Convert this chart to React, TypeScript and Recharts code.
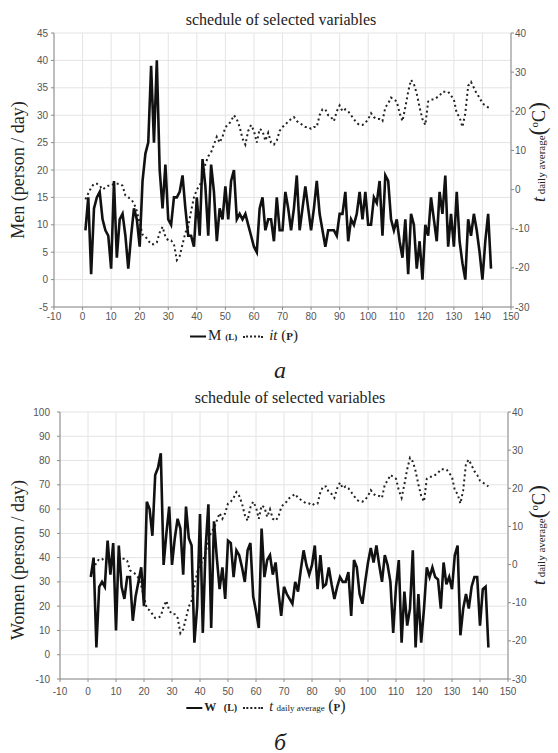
import { CartesianGrid, Line, LineChart, XAxis, YAxis } from 'recharts';

// daily counts (days 1..143)
const menDaily = [
  9, 15, 1, 13, 15, 16, 11, 9, 8, 2,
  18, 4, 11, 12, 8, 2, 8, 13, 11, 6,
  18, 23, 25, 39, 25, 40, 20, 13, 21, 11,
  10, 15, 15, 16, 19, 13, 8, 8, 6, 15,
  8, 22, 17, 8, 21, 16, 7, 13, 11, 17,
  11, 18, 20, 11, 12, 11, 12, 10, 8, 6,
  5, 13, 15, 9, 11, 11, 7, 15, 9, 9,
  16, 13, 9, 13, 19, 9, 13, 17, 13, 9,
  13, 18, 12, 9, 6, 9, 9, 9, 8, 12,
  12, 16, 7, 11, 10, 12, 16, 11, 16, 10,
  10, 15, 14, 18, 8, 19, 18, 11, 9, 11,
  7, 4, 11, 1, 12, 10, 2, 7, 0, 10,
  8, 15, 11, 7, 16, 12, 19, 6, 12, 6,
  16, 7, 3, 0, 11, 8, 12, 9, 5, 0,
  7, 12, 2,
];

const womenDaily = [
  32, 40, 3, 28, 30, 28, 47, 33, 46, 10,
  45, 28, 23, 32, 32, 14, 24, 30, 36, 20,
  63, 60, 49, 74, 77, 83, 37, 50, 61, 37,
  48, 56, 52, 33, 61, 48, 45, 5, 20, 58,
  9, 44, 62, 11, 55, 40, 27, 36, 23, 47,
  46, 32, 43, 41, 36, 30, 43, 46, 24, 18,
  11, 52, 32, 39, 41, 33, 38, 26, 16, 28,
  25, 23, 21, 30, 26, 35, 43, 37, 33, 37,
  45, 27, 41, 28, 29, 36, 29, 23, 28, 32,
  30, 30, 34, 16, 39, 36, 25, 21, 30, 38,
  44, 38, 45, 37, 30, 41, 37, 30, 9, 28,
  39, 5, 26, 12, 19, 43, 3, 25, 5, 19,
  36, 32, 36, 32, 31, 19, 38, 29, 32, 27,
  41, 45, 8, 19, 25, 19, 28, 32, 32, 12,
  27, 28, 3,
];

// daily average temperature, °C
const tempDaily = [
  -2.5, -1, 0.5, 1.5, 1.5, 1, 0, 0.5, 1, 1,
  1.5, 1.5, 1.5, 1, -1.5, -2, -2.5, -3.5, -5.5, -8.5,
  -11.5, -12, -13, -14, -14, -13.5, -11, -9.5, -12, -13,
  -13, -14, -18, -17, -14, -11, -9.5, -5.5, -2, 0,
  1, 3, 6.5, 8.5, 9.5, 11.5, 13.5, 12, 13.5, 16,
  16.5, 17.5, 19, 18, 16, 13, 11.5, 15, 16.5, 15,
  12, 15.5, 15, 12.5, 14.5, 12, 11.5, 12.5, 15, 16,
  16.5, 17.5, 18, 18.5, 17.5, 17, 16.5, 16, 16, 15.5,
  16, 16, 19, 20.5, 20.5, 19, 18.5, 17.5, 20, 21.5,
  20, 20.5, 20, 19, 18, 17, 16.5, 16.5, 17, 18,
  19.5, 18.5, 18, 18, 17.5, 21, 22, 23.5, 23, 22.5,
  19.5, 17.5, 21, 25, 28, 27, 24.5, 21, 18, 16.5,
  22.5, 23, 23, 23.5, 24, 25, 25, 25, 24, 23,
  19.5, 18.5, 16, 19.5, 26.5, 27.5, 26, 24.5, 23.5, 22,
  21.5, 21, 20.5,
];

const dayTicks = [-10, 0, 10, 20, 30, 40, 50, 60, 70, 80, 90, 100, 110, 120, 130, 140, 150];
const menTicks = [-5, 0, 5, 10, 15, 20, 25, 30, 35, 40, 45];
const womenTicks = [-10, 0, 10, 20, 30, 40, 50, 60, 70, 80, 90, 100];
const tempTicks = [-30, -20, -10, 0, 10, 20, 30, 40];

const menRows = menDaily.map((v, i) => ({ day: i + 1, count: v, temp: tempDaily[i] }));
const womenRows = womenDaily.map((v, i) => ({ day: i + 1, count: v, temp: tempDaily[i] }));

const serif = '"Liberation Serif", "DejaVu Serif", serif';
const sans = '"Liberation Sans", Arial, sans-serif';
const tickStyle = { fontSize: 10, fill: '#555', fontFamily: sans };

type PanelProps = {
  top: number;
  rows: { day: number; count: number; temp: number }[];
  leftTicks: number[];
  leftWidth: number;
  rightWidth: number;
  marginTop: number;
  marginBottom: number;
  leftGap: number;
  xGap: number;
};

function Panel({ top, rows, leftTicks, leftWidth, rightWidth, marginTop, marginBottom, leftGap, xGap }: PanelProps) {
  return (
    <div style={{ position: 'absolute', left: 0, top }}>
      <LineChart width={558} height={330} data={rows} margin={{ top: marginTop, right: 0, bottom: marginBottom, left: 0 }}>
        <CartesianGrid stroke="#e4e4e4" />
        <XAxis
          dataKey="day"
          type="number"
          domain={[-10, 150]}
          ticks={dayTicks}
          interval={0}
          height={20}
          tickSize={3}
          tickMargin={xGap}
          tick={tickStyle}
          stroke="#8a8a8a"
        />
        <XAxis
          xAxisId="top"
          orientation="top"
          dataKey="day"
          type="number"
          domain={[-10, 150]}
          ticks={dayTicks}
          height={0}
          tick={false}
          tickLine={false}
          stroke="#8a8a8a"
        />
        <YAxis
          type="number"
          domain={[leftTicks[0], leftTicks[leftTicks.length - 1]]}
          ticks={leftTicks}
          interval={0}
          width={leftWidth}
          tickSize={3}
          tickMargin={leftGap}
          tick={tickStyle}
          stroke="#8a8a8a"
        />
        <YAxis
          yAxisId="right"
          orientation="right"
          type="number"
          domain={[-30, 40]}
          ticks={tempTicks}
          interval={0}
          width={rightWidth}
          tickSize={3}
          tickMargin={1}
          tick={tickStyle}
          stroke="#8a8a8a"
        />
        <Line
          yAxisId="right"
          type="linear"
          dataKey="temp"
          stroke="#222"
          strokeWidth={2}
          strokeDasharray="2 3"
          dot={false}
          isAnimationActive={false}
        />
        <Line type="linear" dataKey="count" stroke="#111" strokeWidth={2.6} dot={false} isAnimationActive={false} />
      </LineChart>
    </div>
  );
}

function Centered({ x, y, style, children }: { x: number; y: number; style?: React.CSSProperties; children: React.ReactNode }) {
  return (
    <div
      style={{
        position: 'absolute',
        left: x,
        top: y,
        transform: 'translate(-50%, -50%)',
        whiteSpace: 'nowrap',
        fontFamily: serif,
        color: '#222',
        ...style,
      }}
    >
      {children}
    </div>
  );
}

function Rotated({ x, y, children }: { x: number; y: number; children: React.ReactNode }) {
  return (
    <div
      style={{
        position: 'absolute',
        left: x,
        top: y,
        transform: 'translate(-50%, -50%) rotate(-90deg)',
        whiteSpace: 'nowrap',
        fontFamily: serif,
        color: '#222',
        fontSize: 18,
      }}
    >
      {children}
    </div>
  );
}

const solidSeg = { display: 'inline-block', width: 16, borderTop: '2px solid #111', verticalAlign: 'middle', marginRight: 2 };
const dotSeg = { display: 'inline-block', width: 20, borderTop: '2px dotted #222', verticalAlign: 'middle', margin: '0 6px' };

function TempAxisLabel() {
  return (
    <>
      <i style={{ fontSize: 18 }}>t</i>
      <span style={{ fontSize: 11 }}> daily average</span>
      <span style={{ fontSize: 24 }}>(</span>
      <sup style={{ fontSize: 11 }}>o</sup>
      <span style={{ fontSize: 18 }}>C</span>
      <span style={{ fontSize: 24 }}>)</span>
    </>
  );
}

export default function App() {
  return (
    <div style={{ position: 'absolute', left: 0, top: 0, width: 558, height: 753, background: '#fff' }}>
      <Panel
        top={0}
        rows={menRows}
        leftTicks={menTicks}
        leftWidth={54}
        rightWidth={47}
        marginTop={33}
        marginBottom={3}
        leftGap={3}
        xGap={3}
      />
      <Panel
        top={380}
        rows={womenRows}
        leftTicks={womenTicks}
        leftWidth={60}
        rightWidth={50}
        marginTop={32}
        marginBottom={11}
        leftGap={7}
        xGap={6}
      />

      <Centered x={281} y={20} style={{ fontSize: 16 }}>schedule of selected variables</Centered>
      <Centered x={290} y={398} style={{ fontSize: 16 }}>schedule of selected variables</Centered>

      <Rotated x={18} y={170}>Men (person / day)</Rotated>
      <Rotated x={18} y={560}>Women (person / day)</Rotated>
      <Rotated x={537} y={152}>
        <TempAxisLabel />
      </Rotated>
      <Rotated x={537} y={535}>
        <TempAxisLabel />
      </Rotated>

      <Centered x={244} y={335} style={{ fontSize: 15 }}>
        <span style={solidSeg} />M <b style={{ fontSize: 9 }}>(L)</b>
        <span style={dotSeg} />
        <i>it</i> (<b style={{ fontSize: 11 }}>P</b>)
      </Centered>
      <Centered x={266} y={706} style={{ fontSize: 14 }}>
        <span style={solidSeg} />
        <b style={{ fontSize: 12 }}>W</b> <b style={{ fontSize: 10, marginLeft: 4 }}>(L)</b>
        <span style={dotSeg} />
        <i>t</i> <span style={{ fontSize: 9 }}>daily average</span> <span style={{ fontSize: 16 }}>(</span>
        <b style={{ fontSize: 11 }}>P</b>
        <span style={{ fontSize: 16 }}>)</span>
      </Centered>

      <Centered x={280} y={370} style={{ fontSize: 24, fontStyle: 'italic' }}>a</Centered>
      <Centered x={280} y={742} style={{ fontSize: 24, fontStyle: 'italic' }}>б</Centered>
    </div>
  );
}
